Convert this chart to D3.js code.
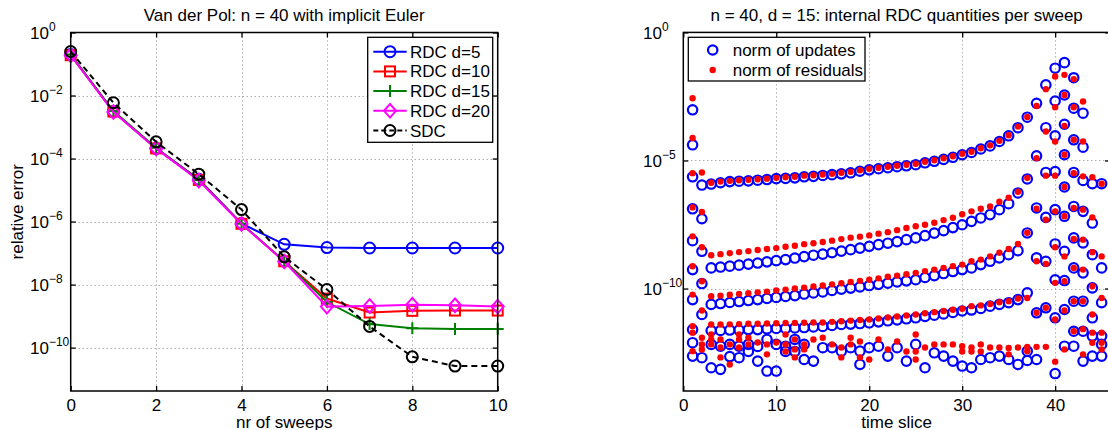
<!DOCTYPE html>
<html><head><meta charset="utf-8">
<script src="https://cdn.jsdelivr.net/npm/d3@7"></script>
<style>
body{margin:0;background:#fff}
svg text{font-family:"Liberation Sans",Arial,Helvetica,sans-serif;fill:#000}
</style></head><body><svg id="c" width="1108" height="430"></svg>
<script>
// ---------------- LEFT PANEL DATA ----------------
const sweeps = [0,1,2,3,4,5,6,7,8,9,10];
const rdc5  = [0.2, 3.1e-3, 2.1e-4, 2.2e-5, 8.7e-7, 1.9e-7, 1.5e-7, 1.45e-7, 1.45e-7, 1.45e-7, 1.45e-7];
const rdc10 = [0.19, 3.1e-3, 2.1e-4, 2.1e-5, 8.5e-7, 5.5e-8, 3.6e-9, 1.3e-9, 1.47e-9, 1.5e-9, 1.5e-9];
const rdc15 = [0.2, 3.2e-3, 2.2e-4, 2.1e-5, 8.6e-7, 5.6e-8, 2.8e-9, 5.6e-10, 4.1e-10, 3.9e-10, 3.9e-10];
const rdc20 = [0.19, 3.0e-3, 2.1e-4, 2.0e-5, 8.4e-7, 5.4e-8, 2.0e-9, 2.1e-9, 2.3e-9, 2.2e-9, 2.0e-9];
const sdc   = [0.25, 5.9e-3, 3.4e-4, 3.2e-5, 2.4e-6, 7.6e-8, 7.0e-9, 4.7e-10, 5.1e-11, 2.6e-11, 2.6e-11];
const seriesNames = ["RDC d=5","RDC d=10","RDC d=15","RDC d=20","SDC"];
const leftXTicks = [0,2,4,6,8,10];
const leftYTicks = [1,1e-2,1e-4,1e-6,1e-8,1e-10];
const leftYExp = ["0","\u22122","\u22124","\u22126","\u22128","\u221210"];

// ---------------- RIGHT PANEL DATA ----------------
// band A: slices 1..43
const updA = [2.3e-6,1.1e-6,1.2e-6,1.35e-6,1.5e-6,1.55e-6,1.6e-6,1.7e-6,1.8e-6,1.95e-6,2.0e-6,2.1e-6,2.3e-6,2.4e-6,2.6e-6,2.8e-6,3.0e-6,3.3e-6,3.8e-6,4.3e-6,4.75e-6,5.2e-6,5.7e-6,6.2e-6,6.8e-6,8.1e-6,9.3e-6,1.1e-5,1.33e-5,1.67e-5,2.05e-5,2.8e-5,3.7e-5,5.5e-5,9.2e-5,1.9e-4,4.9e-4,1.7e-3,8.9e-3,4.0e-2,6.6e-2,1.7e-2,7.0e-4];
const resA = [3.2e-6,3.4e-6,1.35e-6,1.5e-6,1.6e-6,1.7e-6,1.77e-6,1.85e-6,1.95e-6,2.1e-6,2.2e-6,2.3e-6,2.55e-6,2.65e-6,2.85e-6,3.0e-6,3.3e-6,3.6e-6,4.15e-6,4.75e-6,5.2e-6,5.7e-6,6.2e-6,6.8e-6,7.4e-6,8.9e-6,1.02e-5,1.22e-5,1.46e-5,1.82e-5,2.2e-5,3.0e-5,3.9e-5,5.9e-5,9.6e-5,2.1e-4,5.0e-4,1.35e-3,6.1e-3,1.9e-2,2.2e-2,1.5e-2,2.0e-3];
// bands B, C, D: slices 3..37
const bandSlices = [3,4,5,6,7,8,9,10,11,12,13,14,15,16,17,18,19,20,21,22,23,24,25,26,27,28,29,30,31,32,33,34,35,36,37];
const updB = [6.4e-10,6.9e-10,7.5e-10,8.2e-10,9.0e-10,9.9e-10,1.1e-9,1.23e-9,1.35e-9,1.55e-9,1.77e-9,2.0e-9,2.2e-9,2.5e-9,2.9e-9,3.3e-9,3.8e-9,4.45e-9,5.2e-9,5.9e-9,6.8e-9,8.1e-9,9.5e-9,1.16e-8,1.46e-8,1.82e-8,2.4e-8,3.1e-8,4.2e-8,5.7e-8,7.7e-8,1.2e-7,2.05e-7,5.4e-7,1.9e-6];
const resB = [2.0e-9,2.2e-9,2.4e-9,2.65e-9,2.9e-9,3.2e-9,3.5e-9,3.8e-9,4.3e-9,4.7e-9,5.4e-9,5.9e-9,6.6e-9,7.4e-9,8.5e-9,9.7e-9,1.06e-8,1.19e-8,1.39e-8,1.59e-8,1.9e-8,2.3e-8,2.7e-8,3.1e-8,3.7e-8,4.7e-8,5.8e-8,8.0e-8,1.03e-7,1.3e-7,1.6e-7,2.45e-7,3.5e-7,6.0e-7,2.1e-6];
const updC = [2.4e-11,2.6e-11,2.85e-11,3.1e-11,3.4e-11,3.7e-11,4.1e-11,4.5e-11,4.9e-11,5.3e-11,6.1e-11,6.7e-11,7.4e-11,8.4e-11,9.4e-11,1.04e-10,1.16e-10,1.31e-10,1.46e-10,1.62e-10,1.81e-10,2.0e-10,2.2e-10,2.7e-10,3.2e-10,3.85e-10,4.6e-10,5.5e-10,6.4e-10,8.6e-10,1.16e-9,1.57e-9,2.1e-9,3.0e-9,1.48e-8];
const resC = [5.0e-11,5.3e-11,5.7e-11,6.2e-11,6.6e-11,7.1e-11,7.6e-11,8.4e-11,9.1e-11,1.0e-10,1.09e-10,1.2e-10,1.31e-10,1.46e-10,1.62e-10,1.81e-10,2.0e-10,2.2e-10,2.5e-10,2.9e-10,3.2e-10,3.6e-10,4.1e-10,4.8e-10,5.5e-10,6.4e-10,7.5e-10,8.6e-10,1.16e-9,1.35e-9,1.8e-9,2.5e-9,3.5e-9,5.5e-9,1.5e-8];
const updD = [2.3e-12,2.3e-12,2.4e-12,2.4e-12,2.5e-12,2.5e-12,2.65e-12,2.75e-12,2.75e-12,2.9e-12,3.0e-12,3.15e-12,3.3e-12,3.6e-12,3.95e-12,4.1e-12,4.3e-12,4.6e-12,5.0e-12,5.5e-12,6.0e-12,6.6e-12,7.2e-12,8.1e-12,9.1e-12,1.02e-11,1.16e-11,1.33e-11,1.45e-11,1.66e-11,2.05e-11,2.4e-11,2.8e-11,3.7e-11,6.8e-11];
const resD = [3.95e-12,3.95e-12,4.0e-12,4.1e-12,4.2e-12,4.25e-12,4.3e-12,4.4e-12,4.5e-12,4.55e-12,4.65e-12,4.7e-12,4.7e-12,5.0e-12,5.3e-12,5.6e-12,5.9e-12,6.2e-12,6.8e-12,7.4e-12,8.1e-12,8.9e-12,9.7e-12,1.08e-11,1.2e-11,1.34e-11,1.49e-11,1.62e-11,2.05e-11,2.2e-11,2.5e-11,2.9e-11,3.2e-11,4.1e-11,4.3e-11];
// isolated points [slice, value]
const updExtra = [
 [1,9.5e-4],[1,4.1e-5],[1,1.3e-7],[1,7.4e-9],[1,5.5e-10],[1,3.7e-11],[1,2.5e-12],[1,7.7e-13],[1,2.3e-13],
 [2,5.3e-8],[2,2.85e-9],[2,1.57e-10],[2,9.7e-12],[2,2.0e-13],
 [38,1.52e-5],[38,1.4e-7],[38,1.57e-9],[38,1.13e-11],[38,1.7e-13],
 [39,1.9e-4],[39,3.4e-6],[39,6.0e-8],[39,1.16e-9],[39,1.77e-11],
 [40,2.1e-3],[40,9.2e-5],[40,3.7e-6],[40,1.2e-7],[40,5.5e-9],[40,2.2e-10],[40,7.2e-12],[40,4.8e-14],
 [41,3.6e-3],[41,2.6e-4],[41,1.67e-5],[41,9.2e-7],[41,6.6e-8],[41,2.85e-9],[41,2.05e-10],[41,1.52e-11],[41,5.6e-13],
 [42,1.1e-3],[42,6.4e-5],[42,3.4e-6],[42,1.6e-7],[42,9.5e-9],[42,6.4e-10],[42,3.2e-11],[42,2.15e-12],[42,5.6e-13],
 [43,3.3e-5],[43,1.66e-6],[43,1.03e-7],[43,6.0e-9],[43,4.1e-10],[43,3.2e-11],[43,2.15e-12],[43,1.47e-13],
 [44,1.24e-6],[44,3.6e-8],[44,2.1e-9],[44,1.06e-10],[44,7.2e-12],[44,1.4e-12],[44,2.3e-13],
 [45,1.24e-6],[45,6.4e-10],[45,2.8e-11],[45,1.4e-12],[45,6.6e-13],[45,2.3e-13]
];
const resExtra = [
 [1,2.7e-3],[1,7.5e-5],[1,1.47e-7],[1,1.09e-8],[1,7.4e-10],[1,5.8e-11],[1,3.4e-12],[1,1.9e-12],[1,3.6e-13],
 [2,9.8e-8],[2,4.1e-9],[2,1.93e-10],[2,1.39e-11],
 [38,1.24e-5],[38,1.3e-7],[38,1.16e-9],[38,1.13e-11],[38,5.3e-13],
 [39,1.35e-4],[39,2.55e-6],[39,4.9e-8],[39,9.2e-10],[39,1.77e-11],[39,5.3e-13],
 [40,1.2e-3],[40,5.5e-5],[40,2.55e-6],[40,1.03e-7],[40,4.1e-9],[40,1.67e-10],[40,6.2e-12],[40,1.4e-13],
 [41,3.6e-3],[41,2.25e-4],[41,1.67e-5],[41,9.2e-7],[41,6.6e-8],[41,1.8e-9],[41,1.93e-10],[41,1.39e-11],[41,4.2e-13],
 [42,1.2e-3],[42,6.4e-5],[42,3.2e-6],[42,1.4e-7],[42,8.6e-9],[42,6.4e-10],[42,3.2e-11],[42,2.15e-12],
 [43,5.5e-5],[43,2.4e-6],[43,1.2e-7],[43,8.1e-9],[43,5.5e-10],[43,3.2e-11],[43,2.6e-12],[43,2.7e-13],
 [44,2.2e-6],[44,6.0e-8],[44,2.6e-9],[44,1.23e-10],[44,9.7e-12],[44,1.9e-12],[44,7.7e-13],
 [45,1.24e-6],[45,1.8e-9],[45,4.3e-11],[45,1.9e-12],[45,7.7e-13],[45,4.2e-13]
];
// noise floor [slice, value]
const updFloor = [
 [3,6.6e-13],[3,8.1e-14],[4,5.6e-13],[4,7.0e-14],[5,6.6e-13],[5,2.2e-13],[6,5.6e-13],[6,2.0e-13],
 [7,6.6e-13],[7,3.5e-13],[8,5.5e-13],[8,1.47e-13],[9,1.03e-12],[9,6.0e-14],[10,6.6e-13],[10,6.0e-14],
 [11,5.6e-13],[11,3.5e-13],[12,3.5e-13],[12,1.03e-12],[13,1.7e-13],[13,6.6e-13],[14,1.47e-13],[15,4.9e-13],
 [16,4.9e-13],[17,3.6e-13],[18,4.9e-13],[19,3.6e-13],[19,1.09e-13],[20,4.9e-13],[21,5.6e-13],[22,2.3e-13],
 [23,4.9e-13],[24,1.47e-13],[25,6.6e-13],[26,8.1e-14],[27,3.1e-13],[28,2.3e-13],[29,1.47e-13],[30,9.4e-14],
 [31,8.1e-14],[32,1.7e-13],[33,2.0e-13],[34,2.3e-13],[35,1.7e-13],[36,1.09e-13],[37,3.6e-13],[37,1.55e-13]
];
const resFloor = [
 [2,1.2e-12],[2,6.6e-13],[2,4.2e-13],[3,1.6e-12],[3,1.03e-12],[3,6.6e-13],[4,1.03e-12],[4,5.0e-13],[4,2.05e-13],
 [5,6.6e-13],[5,1.09e-13],[6,1.6e-12],[6,1.03e-12],[6,5.0e-13],[7,1.2e-12],[7,6.6e-13],[8,7.8e-13],
 [9,6.6e-13],[9,2.7e-13],[10,7.8e-13],[11,1.6e-12],[11,6.6e-13],[11,3.5e-13],[12,1.03e-12],[12,4.2e-13],[12,2.05e-13],
 [13,6.6e-13],[13,4.2e-13],[14,1.03e-12],[15,1.2e-12],[16,6.6e-13],[17,5.0e-13],[17,2.05e-13],[18,1.2e-12],[18,6.6e-13],
 [19,8.6e-13],[19,2.05e-13],[20,1.7e-13],[21,1.03e-12],[22,4.2e-13],[23,8.6e-13],[24,3.5e-13],[25,1.6e-12],[25,3.5e-13],[25,1.7e-13],
 [26,5.0e-13],[27,6.6e-13],[28,6.6e-13],[29,6.6e-13],[30,5.6e-13],[30,3.5e-13],[31,5.0e-13],[31,3.5e-13],[32,6.6e-13],[32,3.5e-13],
 [33,5.0e-13],[34,5.0e-13],[35,4.8e-13],[35,2.7e-13],[36,5.0e-13],[37,5.3e-13],[37,3.6e-13]
];
const rightXTicks = [0,10,20,30,40];
const rightYTicks = [1,1e-5,1e-10];
const rightYExp = ["0","\u22125","\u221210"];

// ---------------- DRAWING ----------------
const svg = d3.select("#c");
svg.append("rect").attr("width",1108).attr("height",430).attr("fill","#fff");
const FONT = 17;

function panel(o){
  const x = d3.scaleLinear().domain(o.xDomain).range([o.x0,o.x1]);
  const y = d3.scaleLog().domain(o.yDomain).range([o.y1,o.y0]);
  const g = svg.append("g");
  const grid = g.append("g").attr("stroke","#8a8a8a").attr("stroke-width",1).attr("stroke-dasharray","1,3");
  grid.selectAll("line.gx").data(o.xTicks.filter(t=>x(t)>o.x0+2 && x(t)<o.x1-2)).join("line")
    .attr("x1",d=>Math.round(x(d))+0.5).attr("x2",d=>Math.round(x(d))+0.5).attr("y1",o.y0).attr("y2",o.y1);
  grid.selectAll("line.gy").data(o.yTicks.filter(t=>y(t)>o.y0+2 && y(t)<o.y1-2)).join("line")
    .attr("y1",d=>Math.round(y(d))+0.5).attr("y2",d=>Math.round(y(d))+0.5).attr("x1",o.x0).attr("x2",o.x1);
  const axStyle = sel=>{sel.select(".domain").remove(); sel.selectAll("line").attr("stroke","#000").attr("stroke-width",1.3);};
  // bottom
  const ab = g.append("g").attr("transform",`translate(0,${o.y1})`)
    .call(d3.axisBottom(x).tickValues(o.xTicks).tickSize(-5).tickFormat(d3.format("d"))).call(axStyle);
  ab.selectAll("text").attr("dy",null).attr("y",19.5).attr("font-size",FONT).attr("font-family",null);
  // top
  g.append("g").attr("transform",`translate(0,${o.y0})`)
    .call(d3.axisTop(x).tickValues(o.xTicks).tickSize(-5).tickFormat("")).call(axStyle).selectAll("text").remove();
  // left
  const al = g.append("g").attr("transform",`translate(${o.x0},0)`)
    .call(d3.axisLeft(y).tickValues(o.yTicks).tickSize(-5).tickFormat("")).call(axStyle);
  al.selectAll("text").each(function(d,i){
    const t=d3.select(this);
    t.attr("x",o.labelX-o.x0).attr("dy",null).attr("y",6).attr("text-anchor","start").attr("font-size",FONT).attr("font-family",null);
    t.append("tspan").text("10");
    t.append("tspan").attr("font-size",12).attr("dy",-8).text(o.yExp[i]);
  });
  // right
  g.append("g").attr("transform",`translate(${o.x1},0)`)
    .call(d3.axisRight(y).tickValues(o.yTicks).tickSize(-5).tickFormat("")).call(axStyle).selectAll("text").remove();
  g.selectAll("g").attr("font-family",null).attr("font-size",null);
  // title & labels
  g.append("text").attr("x",(o.x0+o.x1)/2).attr("y",21).attr("text-anchor","middle").attr("font-size",FONT).text(o.title);
  g.append("text").attr("x",(o.x0+o.x1)/2).attr("y",427.5).attr("text-anchor","middle").attr("font-size",FONT).text(o.xLabel);
  if(o.yLabel) g.append("text").attr("transform",`translate(23,${(o.y0+o.y1)/2}) rotate(-90)`).attr("text-anchor","middle").attr("font-size",FONT).text(o.yLabel);
  const marks = svg.append("g");
  return {x,y,g,marks,o};
}
function frame(p){
  const o=p.o;
  svg.append("rect").attr("x",o.x0).attr("y",o.y0).attr("width",o.x1-o.x0).attr("height",o.y1-o.y0)
    .attr("fill","none").attr("stroke","#000").attr("stroke-width",1.5);
}

// ----- left panel -----
const L = panel({x0:70.7,x1:497.7,y0:32.5,y1:391,xDomain:[0,10],yDomain:[4.2e-12,1],
  xTicks:leftXTicks,yTicks:leftYTicks,yExp:leftYExp,labelX:30,
  title:"Van der Pol: n = 40 with implicit Euler",xLabel:"nr of sweeps",yLabel:"relative error"});

function marker(sel,type,color){
  if(type==="circle") return sel.append("circle").attr("r",5.5).attr("fill","none").attr("stroke",color).attr("stroke-width",2);
  if(type==="square") return sel.append("rect").attr("x",-5).attr("y",-5).attr("width",10).attr("height",10).attr("fill","none").attr("stroke",color).attr("stroke-width",2);
  if(type==="plus") return sel.append("path").attr("d","M-6,0H6M0,-6V6").attr("stroke",color).attr("stroke-width",2);
  if(type==="diamond") return sel.append("path").attr("d","M0,-6.8L6,0L0,6.8L-6,0Z").attr("fill","none").attr("stroke",color).attr("stroke-width",2);
}
const leftSeries = [
  {name:seriesNames[0],vals:rdc5,color:"#0000ff",m:"circle",dash:null},
  {name:seriesNames[1],vals:rdc10,color:"#ff0000",m:"square",dash:null},
  {name:seriesNames[2],vals:rdc15,color:"#008000",m:"plus",dash:null},
  {name:seriesNames[3],vals:rdc20,color:"#ff00ff",m:"diamond",dash:null},
  {name:seriesNames[4],vals:sdc,color:"#000000",m:"circle",dash:"6,4"}
];
const line = d3.line().x((d,i)=>L.x(sweeps[i])).y(d=>L.y(d));
leftSeries.forEach(s=>{
  const sg = L.marks.append("g");
  sg.append("path").attr("d",line(s.vals)).attr("fill","none").attr("stroke",s.color).attr("stroke-width",2)
    .attr("stroke-dasharray",s.dash);
  sg.selectAll("g.m").data(s.vals).join("g").attr("transform",(d,i)=>`translate(${L.x(sweeps[i])},${L.y(d)})`)
    .each(function(){marker(d3.select(this),s.m,s.color);});
});
frame(L);
// legend left
const lg = svg.append("g");
lg.append("rect").attr("x",367.7).attr("y",37.3).attr("width",125).attr("height",105).attr("fill","#fff").attr("stroke","#000").attr("stroke-width",1.3);
leftSeries.forEach((s,i)=>{
  const yy = 51.7 + i*19.7;
  lg.append("line").attr("x1",373.3).attr("x2",406.7).attr("y1",yy).attr("y2",yy).attr("stroke",s.color).attr("stroke-width",2).attr("stroke-dasharray",s.dash?"5,3":null);
  marker(lg.append("g").attr("transform",`translate(390,${yy})`),s.m,s.color);
  lg.append("text").attr("x",410).attr("y",yy+6).attr("font-size",FONT).text(s.name);
});

// ----- right panel -----
const R = panel({x0:683.3,x1:1110,y0:32.4,y1:391,xDomain:[0,45.9],yDomain:[1e-14,1],
  xTicks:rightXTicks,yTicks:rightYTicks,yExp:rightYExp,labelX:643,
  title:"n = 40, d = 15: internal RDC quantities per sweep",xLabel:"time slice",yLabel:null});
const updPts = [].concat(
  updA.map((v,i)=>[i+1,v]),
  updB.map((v,i)=>[bandSlices[i],v]), updC.map((v,i)=>[bandSlices[i],v]), updD.map((v,i)=>[bandSlices[i],v]),
  updExtra, updFloor);
const resPts = [].concat(
  resA.map((v,i)=>[i+1,v]),
  resB.map((v,i)=>[bandSlices[i],v]), resC.map((v,i)=>[bandSlices[i],v]), resD.map((v,i)=>[bandSlices[i],v]),
  resExtra, resFloor);
R.marks.selectAll("circle.u").data(updPts).join("circle").attr("class","u")
  .attr("cx",d=>R.x(d[0])).attr("cy",d=>R.y(d[1])).attr("r",4.7).attr("fill","none").attr("stroke","#0000ff").attr("stroke-width",2.2);
R.marks.selectAll("circle.r").data(resPts).join("circle").attr("class","r")
  .attr("cx",d=>R.x(d[0])).attr("cy",d=>R.y(d[1])).attr("r",3.2).attr("fill","#ff0000");
frame(R);
// legend right
const rg = svg.append("g");
rg.append("rect").attr("x",688.3).attr("y",37.3).attr("width",176.7).attr("height",43.7).attr("fill","#fff").attr("stroke","#000").attr("stroke-width",1.3);
rg.append("circle").attr("cx",712.7).attr("cy",50).attr("r",4.7).attr("fill","none").attr("stroke","#0000ff").attr("stroke-width",2.2);
rg.append("circle").attr("cx",712.7).attr("cy",70).attr("r",3.2).attr("fill","#ff0000");
rg.append("text").attr("x",732.7).attr("y",56).attr("font-size",FONT).text("norm of updates");
rg.append("text").attr("x",732.7).attr("y",76).attr("font-size",FONT).text("norm of residuals");
</script></body></html>
